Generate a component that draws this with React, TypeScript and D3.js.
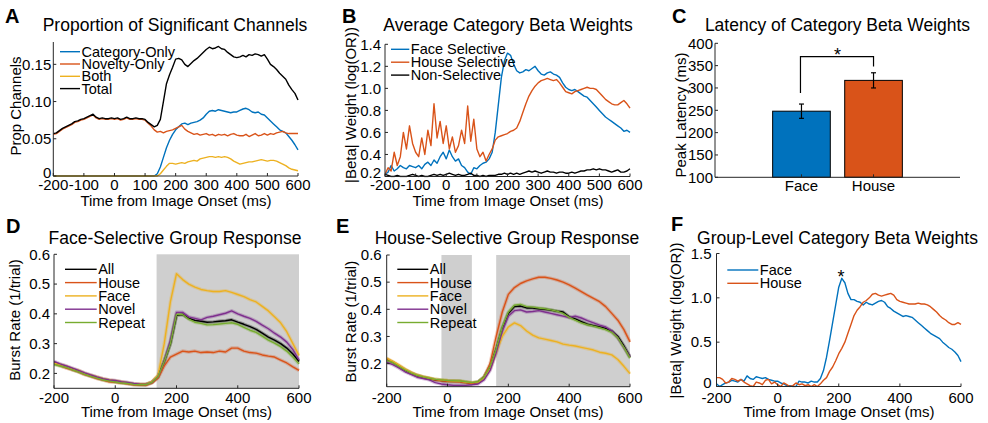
import React from 'react';
import * as d3 from 'd3';

// ---------------- DATA ----------------
const T10 = d3.range(-200, 601, 10);
const T20 = d3.range(-200, 601, 20);

// Panel A: proportion of significant channels
const A_category = [
  0, 0, 0, 0, 0, 0, 0, 0, 0, 0,
  0, 0, 0, 0, 0, 0, 0, 0, 0, 0,
  0, 0, 0, 0, 0, 0, 0, 0, 0, 0,
  0, 0, 0, 0, .003, .012, .025, .038, .048, .056,
  .062, .066, .070, .071, .069, .071, .072, .073, .075, .078,
  .083, .087, .088, .087, .089, .088, .087, .086, .085, .086,
  .086, .088, .090, .091, .089, .086, .085, .086, .083, .082,
  .078, .074, .070, .066, .062, .060, .058, .053, .048, .042,
  .035,
];
const A_novelty = [
  .056, .057, .060, .063, .065, .067, .069, .072, .073, .075,
  .076, .078, .080, .082, .078, .076, .077, .076, .076, .077,
  .076, .077, .075, .076, .078, .076, .076, .077, .076, .076,
  .075, .071, .067, .062, .059, .060, .058, .060, .061, .062,
  .064, .066, .068, .063, .060, .058, .056, .057, .055, .056,
  .057, .055, .056, .054, .056, .055, .056, .054, .056, .057,
  .055, .054, .054, .056, .053, .055, .057, .054, .055, .057,
  .055, .057, .056, .058, .059, .060, .058, .057, .057, .057,
  .057,
];
const A_both = [
  0, 0, 0, 0, 0, 0, 0, 0, 0, 0,
  0, 0, 0, 0, 0, 0, 0, 0, 0, 0,
  0, 0, 0, 0, 0, 0, 0, 0, 0, 0,
  0, 0, 0, 0, 0, .003, .008, .013, .017, .017,
  .016, .017, .018, .017, .019, .020, .021, .020, .023, .024,
  .025, .026, .026, .025, .026, .025, .026, .025, .023, .020,
  .018, .016, .017, .018, .019, .019, .020, .021, .022, .021,
  .020, .021, .021, .020, .018, .016, .014, .011, .009, .008,
  .007,
];
const A_total = [
  .057, .058, .061, .064, .066, .068, .070, .073, .074, .076,
  .077, .079, .081, .083, .079, .077, .078, .077, .077, .078,
  .077, .078, .076, .077, .079, .077, .077, .078, .077, .077,
  .076, .072, .069, .066, .068, .076, .100, .124, .136, .146,
  .157, .158, .156, .150, .147, .151, .155, .158, .162, .166,
  .170, .173, .171, .172, .174, .171, .170, .166, .163, .160,
  .159, .160, .162, .160, .163, .162, .164, .163, .161, .163,
  .157, .150, .147, .143, .138, .134, .130, .122, .116, .111,
  .102,
];

// Panel B: average category beta weights
const B_face = [
  .22, .24, .30, .25, .27, .30, .28, .27, .30, .29,
  .28, .30, .27, .31, .33, .30, .35, .32, .38, .42,
  .36, .44, .38, .34, .36, .30, .28, .24, .22, .28,
  .27, .30, .32, .33, .36, .42, .60, .85, 1.10, 1.25,
  1.32, 1.30, 1.22, 1.16, 1.14, 1.15, 1.17, 1.16, 1.18, 1.20,
  1.16, 1.13, 1.12, 1.14, 1.15, 1.13, 1.12, 1.10, 1.05, 1.01,
  .99, .98, .99, .97, .95, .93, .92, .89, .86, .83,
  .80, .77, .74, .72, .70, .68, .66, .64, .61, .62,
  .60,
];
const B_house = [
  .22, .28, .25, .42, .30, .38, .60, .45, .66, .50,
  .42, .38, .55, .40, .62, .48, .86, .55, .70, .50,
  .66, .45, .56, .42, .48, .62, .50, .84, .52, .72,
  .45, .38, .42, .34, .40, .45, .53, .56, .57, .58,
  .59, .61, .62, .64, .70, .78, .86, .93, .98, 1.02,
  1.05, 1.07, 1.08, 1.09, 1.08, 1.07, 1.08, 1.05, 1.01, .97,
  .96, .95, .97, .98, .99, 1.00, 1.01, 1.00, 1.00, .99,
  .96, .93, .90, .88, .86, .85, .85, .87, .89, .86,
  .82,
];
const B_non = [
  .22, .21, .20, .20, .21, .20, .20, .20, .21, .22,
  .21, .20, .21, .20, .20, .21, .22, .21, .22, .21,
  .22, .23, .22, .21, .22, .21, .21, .22, .23, .21,
  .21, .20, .21, .20, .21, .21, .21, .22, .22, .23,
  .22, .23, .22, .23, .22, .23, .24, .25, .24, .25,
  .24, .23, .24, .25, .24, .24, .23, .24, .24, .23,
  .23, .24, .23, .24, .25, .25, .26, .26, .27, .26,
  .27, .26, .26, .25, .24, .25, .26, .24, .24, .25,
  .27,
];

// Panel C: peak latency
const C_categories = ['Face', 'House'];
const C_means = [248, 317];
const C_errors = [16, 17];

// Panel D: face-selective group response (20 ms steps)
const D_all = [
  .236, .228, .222, .214, .207, .199, .192, .186, .180, .176,
  .173, .170, .167, .164, .163, .163, .170, .190, .240, .300,
  .395, .398, .385, .378, .375, .372, .373, .375, .377, .380,
  .372, .365, .357, .348, .335, .322, .312, .300, .285, .265,
  .240,
];
const D_house = [
  .232, .226, .218, .212, .205, .196, .190, .183, .178, .172,
  .170, .168, .165, .162, .161, .160, .168, .185, .225, .255,
  .265, .275, .272, .275, .270, .272, .270, .275, .272, .285,
  .285, .275, .270, .268, .262, .258, .255, .245, .235, .222,
  .210,
];
const D_face = [
  .235, .230, .224, .215, .210, .200, .194, .188, .182, .178,
  .175, .172, .168, .165, .164, .164, .172, .195, .300, .440,
  .535, .515, .500, .490, .482, .478, .475, .475, .478, .472,
  .465, .458, .448, .440, .425, .410, .390, .370, .340, .300,
  .260,
];
const D_novel = [
  .240, .232, .225, .218, .210, .202, .195, .188, .182, .178,
  .176, .172, .170, .166, .164, .163, .170, .190, .240, .310,
  .405, .405, .390, .385, .380, .388, .392, .397, .402, .410,
  .400, .392, .385, .375, .362, .350, .335, .322, .305, .280,
  .245,
];
const D_repeat = [
  .230, .225, .220, .212, .205, .197, .190, .184, .178, .174,
  .171, .168, .166, .163, .162, .162, .170, .190, .240, .300,
  .398, .398, .382, .372, .368, .363, .364, .366, .368, .370,
  .365, .355, .345, .338, .325, .312, .302, .290, .275, .255,
  .232,
];

// Panel E: house-selective group response (20 ms steps)
const E_all = [
  .215, .205, .190, .176, .165, .156, .150, .145, .140, .138,
  .136, .135, .135, .131, .128, .132, .150, .190, .255, .330,
  .385, .410, .412, .405, .405, .402, .400, .397, .393, .390,
  .372, .365, .355, .345, .340, .335, .330, .320, .300, .265,
  .225,
];
const E_house = [
  .218, .205, .192, .178, .166, .157, .150, .145, .140, .137,
  .135, .134, .133, .130, .127, .130, .150, .200, .300, .390,
  .455, .480, .495, .505, .512, .518, .518, .514, .508, .500,
  .490, .478, .465, .452, .440, .428, .410, .385, .360, .325,
  .280,
];
const E_face = [
  .220, .208, .195, .180, .168, .158, .152, .147, .142, .140,
  .138, .137, .136, .132, .130, .132, .148, .180, .240, .300,
  .335, .350, .340, .320, .305, .295, .290, .285, .280, .272,
  .268, .265, .260, .255, .250, .242, .238, .232, .215, .190,
  .163,
];
const E_novel = [
  .205, .196, .184, .170, .160, .150, .145, .140, .130, .125,
  .122, .120, .120, .120, .122, .125, .140, .175, .240, .320,
  .375, .395, .398, .390, .392, .395, .390, .385, .380, .375,
  .370, .375, .368, .358, .350, .342, .335, .320, .295, .260,
  .225,
];
const E_repeat = [
  .212, .204, .190, .177, .166, .157, .151, .146, .142, .140,
  .138, .137, .136, .133, .130, .133, .150, .190, .255, .335,
  .390, .415, .418, .410, .408, .405, .402, .398, .393, .385,
  .370, .360, .350, .343, .338, .332, .325, .315, .295, .260,
  .220,
];

// Panel F: group-level category beta weights
const F_face = [
  .03, .00, .02, .04, .05, .07, .06, .05, .08, .06,
  .12, .09, .08, .11, .10, .09, .10, .08, .07, .06,
  .06, .04, .03, .01, .01, .00, .00, .06, .05, .05,
  .04, .06, .05, .05, .09, .18, .33, .52, .72, .92,
  1.12, 1.22, 1.17, 1.05, .98, .98, .96, .95, .92, .95,
  .93, .92, .94, .96, .97, .95, .90, .88, .85, .83,
  .81, .79, .80, .79, .78, .75, .72, .69, .66, .63,
  .60, .58, .56, .54, .50, .47, .44, .42, .39, .35,
  .28,
];
const F_house = [
  .10, .10, .08, .04, .05, .09, .08, .06, .08, .05,
  .03, .01, .00, .05, .04, .02, .07, .08, .03, .05,
  .02, .00, .04, .02, .00, .01, .04, .02, .03, .01,
  .02, .00, .02, .00, .03, .07, .10, .17, .22, .29,
  .37, .43, .50, .60, .70, .80, .86, .90, .95, .97,
  1.00, 1.04, 1.05, 1.03, 1.02, 1.03, 1.04, 1.05, 1.03, .98,
  .96, .95, .94, .93, .93, .93, .94, .93, .93, .92,
  .90, .87, .84, .80, .77, .75, .72, .70, .70, .72,
  .70,
];

const xTicksFine = [-200, -100, 0, 100, 200, 300, 400, 500, 600];
const xTicksCoarse = [-200, 0, 200, 400, 600];

// ---------------- STYLE ----------------
const FONT = '"Liberation Sans", Arial, Helvetica, sans-serif';
const BLUE = '#0072BD';
const RED = '#D95319';
const YELLOW = '#EDB120';
const PURPLE = '#7E2F8E';
const GREEN = '#77AC30';
const BLACK = '#000000';
const AX = '#262626';
const TICK_FS = 15;
const LABEL_FS = 15;
const TITLE_FS = 17.5;
const LEGEND_FS = 14.5;
const LETTER_FS = 20;

type Series = { name: string; color: string; values: number[] };
type PanelProps = {
  id: string;
  x0: number; x1: number; yTop: number; yBot: number;
  yDom: [number, number];
  times: number[];
  series: Series[];
  xTicks: number[];
  yTicks: number[];
  yFmt: (v: number) => string;
  tickGap: number;
  shades?: [number, number][];
  legend: { x0: number; x1: number; y: number; dy: number };
  halo?: boolean;
  tickY: number;
  xLabelX: number; xLabelY: number;
  yLabel: string; yLabelX: number; yLabelY: number;
  title: string; titleX: number; titleY: number;
  letter: string; letterX: number; letterY: number;
};

function PanelText(p: { title: string; titleX: number; titleY: number; letter: string; letterX: number; letterY: number }) {
  return (
    <g>
      <text x={p.titleX} y={p.titleY} textAnchor="middle" fontSize={TITLE_FS}>{p.title}</text>
      <text x={p.letterX} y={p.letterY} fontSize={LETTER_FS} fontWeight="bold">{p.letter}</text>
    </g>
  );
}

function LinePanel(p: PanelProps) {
  const xs = d3.scaleLinear().domain([-200, 600]).range([p.x0, p.x1]);
  const ys = d3.scaleLinear().domain(p.yDom).range([p.yBot, p.yTop]);
  const mk = (vals: number[]) =>
    d3.line<number>().x((_, i) => xs(p.times[i])).y((v) => ys(v))(vals) ?? '';
  const clipId = `clip-${p.id}`;
  return (
    <g>
      <defs>
        <clipPath id={clipId}>
          <rect x={p.x0} y={p.yTop - 1} width={p.x1 - p.x0 + 1} height={p.yBot - p.yTop + 2} />
        </clipPath>
      </defs>
      {(p.shades ?? []).map(([a, b], i) => (
        <rect key={i} x={xs(a)} y={p.yTop} width={xs(b) - xs(a)} height={p.yBot - p.yTop} fill="#cfcfcf" />
      ))}
      <g clipPath={`url(#${clipId})`}>
        {p.halo &&
          p.series.map((s) => (
            <path key={'h' + s.name} d={mk(s.values)} fill="none" stroke={s.color} strokeOpacity={0.3} strokeWidth={3.5} strokeLinejoin="round" />
          ))}
        {p.series.map((s) => (
          <path key={s.name} d={mk(s.values)} fill="none" stroke={s.color} strokeWidth={1.4} strokeLinejoin="round" />
        ))}
      </g>
      <line x1={p.x0} x2={p.x1} y1={p.yBot} y2={p.yBot} stroke={AX} strokeWidth={1} />
      <line x1={p.x0} x2={p.x0} y1={p.yTop} y2={p.yBot} stroke={AX} strokeWidth={1} />
      {p.xTicks.map((t) => (
        <g key={'xt' + t}>
          <line x1={xs(t)} x2={xs(t)} y1={p.yBot} y2={p.yBot - 3} stroke={AX} />
          <text x={xs(t)} y={p.tickY} textAnchor="middle" fontSize={TICK_FS}>{String(t)}</text>
        </g>
      ))}
      {p.yTicks.map((v, i) => (
        <g key={'yt' + v}>
          <line x1={p.x0} x2={p.x0 + 3} y1={ys(v)} y2={ys(v)} stroke={AX} />
          <text x={p.x0 - p.tickGap} y={ys(v) - (i === 0 && ys(v) > p.yBot - 2 ? 3.5 : 0)} dy="0.35em" textAnchor="end" fontSize={TICK_FS}>{p.yFmt(v)}</text>
        </g>
      ))}
      <text x={p.xLabelX} y={p.xLabelY} textAnchor="middle" fontSize={LABEL_FS}>Time from Image Onset (ms)</text>
      <text transform={`translate(${p.yLabelX},${p.yLabelY}) rotate(-90)`} textAnchor="middle" fontSize={LABEL_FS}>{p.yLabel}</text>
      {p.series.map((s, i) => (
        <g key={'lg' + s.name}>
          <line x1={p.legend.x0} x2={p.legend.x1} y1={p.legend.y + i * p.legend.dy} y2={p.legend.y + i * p.legend.dy} stroke={s.color} strokeWidth={1.4} />
          <text x={p.legend.x1 + 1.5} y={p.legend.y + i * p.legend.dy} dy="0.35em" fontSize={LEGEND_FS}>{s.name}</text>
        </g>
      ))}
      <PanelText title={p.title} titleX={p.titleX} titleY={p.titleY} letter={p.letter} letterX={p.letterX} letterY={p.letterY} />
    </g>
  );
}

function BarPanel() {
  const x0 = 715, x1 = 960, yTop = 43.3, yBot = 177.3;
  const xs = d3.scaleLinear().domain([-0.2, 3.2]).range([x0, x1]);
  const ys = d3.scaleLinear().domain([100, 400]).range([yBot, yTop]);
  const colors = [BLUE, RED];
  const bw = 0.8;
  const yTicks = d3.range(100, 401, 50);
  const cx = [1, 2];
  return (
    <g>
      {C_means.map((m, i) => (
        <rect key={i} x={xs(cx[i] - bw / 2)} y={ys(m)} width={xs(cx[i] + bw / 2) - xs(cx[i] - bw / 2)} height={ys(100) - ys(m)} fill={colors[i]} stroke="#000" strokeWidth={1} />
      ))}
      {C_means.map((m, i) => (
        <g key={'e' + i} stroke="#000" strokeWidth={1.2}>
          <line x1={xs(cx[i])} x2={xs(cx[i])} y1={ys(m - C_errors[i])} y2={ys(m + C_errors[i])} />
          <line x1={xs(cx[i]) - 2.5} x2={xs(cx[i]) + 2.5} y1={ys(m - C_errors[i])} y2={ys(m - C_errors[i])} />
          <line x1={xs(cx[i]) - 2.5} x2={xs(cx[i]) + 2.5} y1={ys(m + C_errors[i])} y2={ys(m + C_errors[i])} />
        </g>
      ))}
      <path d={`M${xs(1) - 1},${ys(289)} V${ys(370)} H${xs(2)} V${ys(348)}`} fill="none" stroke="#000" strokeWidth={1.2} />
      <text x={(xs(1) + xs(2)) / 2} y={ys(370) + 4} textAnchor="middle" fontSize={18}>*</text>
      <line x1={x0} x2={x1} y1={yBot} y2={yBot} stroke={AX} />
      <line x1={x0} x2={x0} y1={yTop} y2={yBot} stroke={AX} />
      {yTicks.map((v) => (
        <g key={v}>
          <line x1={x0} x2={x0 + 3} y1={ys(v)} y2={ys(v)} stroke={AX} />
          <text x={x0 - 2} y={ys(v)} dy="0.35em" textAnchor="end" fontSize={TICK_FS}>{v}</text>
        </g>
      ))}
      {C_categories.map((c, i) => (
        <g key={c}>
          <line x1={xs(cx[i])} x2={xs(cx[i])} y1={yBot} y2={yBot - 3} stroke={AX} />
          <text x={xs(cx[i])} y={190.5} textAnchor="middle" fontSize={TICK_FS}>{c}</text>
        </g>
      ))}
      <text transform={`translate(686,115) rotate(-90)`} textAnchor="middle" fontSize={LABEL_FS}>Peak Latency (ms)</text>
      <PanelText title="Latency of Category Beta Weights" titleX={837.5} titleY={30.5} letter="C" letterX={672} letterY={22.5} />
    </g>
  );
}

export default function App() {
  const f2 = (v: number) => (v === 0 ? '0' : v.toFixed(2));
  const f1 = (v: number) => v.toFixed(1);
  const f1z = (v: number) => (v === 0 ? '0' : v.toFixed(1));
  return (
    <div style={{ position: 'absolute', left: 0, top: 0 }}>
      <svg width={988} height={423} style={{ display: 'block', background: '#fff' }} fontFamily={FONT}>
        <LinePanel
          id="A" x0={53.3} x1={298} yTop={42} yBot={176} yDom={[0, 0.18]} times={T10}
          series={[
            { name: 'Category-Only', color: BLUE, values: A_category },
            { name: 'Novelty-Only', color: RED, values: A_novelty },
            { name: 'Both', color: YELLOW, values: A_both },
            { name: 'Total', color: BLACK, values: A_total },
          ]}
          xTicks={xTicksFine} yTicks={[0, 0.05, 0.1, 0.15]} yFmt={f2} tickGap={2}
          legend={{ x0: 60, x1: 80, y: 51.7, dy: 12.3 }}
          tickY={190} xLabelX={176} xLabelY={206}
          yLabel="Prop Channels" yLabelX={20.5} yLabelY={106}
          title="Proportion of Significant Channels" titleX={175} titleY={30.5}
          letter="A" letterX={5} letterY={22.7}
        />
        <LinePanel
          id="B" x0={385} x1={630} yTop={44.3} yBot={176.5} yDom={[0.2, 1.4]} times={T10}
          series={[
            { name: 'Face Selective', color: BLUE, values: B_face },
            { name: 'House Selective', color: RED, values: B_house },
            { name: 'Non-Selective', color: BLACK, values: B_non },
          ]}
          xTicks={xTicksFine} yTicks={[0.2, 0.4, 0.6, 0.8, 1.0, 1.2, 1.4]} yFmt={f1} tickGap={4}
          legend={{ x0: 391, x1: 409.3, y: 49.3, dy: 12.9 }}
          tickY={190} xLabelX={508} xLabelY={206}
          yLabel="|Beta| Weight (log(OR))" yLabelX={356} yLabelY={105}
          title="Average Category Beta Weights" titleX={508} titleY={30.5}
          letter="B" letterX={342} letterY={22.7}
        />
        <BarPanel />
        <LinePanel
          id="D" x0={54} x1={299} yTop={254.3} yBot={388.3} yDom={[0.15, 0.6]} times={T20}
          series={[
            { name: 'All', color: BLACK, values: D_all },
            { name: 'House', color: RED, values: D_house },
            { name: 'Face', color: YELLOW, values: D_face },
            { name: 'Novel', color: PURPLE, values: D_novel },
            { name: 'Repeat', color: GREEN, values: D_repeat },
          ]}
          shades={[[135, 600]]} halo
          xTicks={xTicksCoarse} yTicks={[0.2, 0.3, 0.4, 0.5, 0.6]} yFmt={f1} tickGap={4}
          legend={{ x0: 65, x1: 96.7, y: 269.3, dy: 13.3 }}
          tickY={403} xLabelX={176.5} xLabelY={416.5}
          yLabel="Burst Rate (1/trial)" yLabelX={19.5} yLabelY={320}
          title="Face-Selective Group Response" titleX={175} titleY={243.5}
          letter="D" letterX={6} letterY={232.5}
        />
        <LinePanel
          id="E" x0={386.7} x1={630} yTop={255} yBot={386.7} yDom={[0.115, 0.6]} times={T20}
          series={[
            { name: 'All', color: BLACK, values: E_all },
            { name: 'House', color: RED, values: E_house },
            { name: 'Face', color: YELLOW, values: E_face },
            { name: 'Novel', color: PURPLE, values: E_novel },
            { name: 'Repeat', color: GREEN, values: E_repeat },
          ]}
          shades={[[-20, 80], [160, 600]]} halo
          xTicks={xTicksCoarse} yTicks={[0.2, 0.3, 0.4, 0.5, 0.6]} yFmt={f1} tickGap={5}
          legend={{ x0: 397.3, x1: 428.3, y: 269.3, dy: 13.3 }}
          tickY={403} xLabelX={508} xLabelY={416.5}
          yLabel="Burst Rate (1/trial)" yLabelX={356} yLabelY={321.7}
          title="House-Selective Group Response" titleX={507} titleY={243.5}
          letter="E" letterX={336} letterY={232.5}
        />
        <LinePanel
          id="F" x0={716.5} x1={961} yTop={253.5} yBot={386.5} yDom={[0, 1.5]} times={T10}
          series={[
            { name: 'Face', color: BLUE, values: F_face },
            { name: 'House', color: RED, values: F_house },
          ]}
          xTicks={xTicksCoarse} yTicks={[0, 0.5, 1.0, 1.5]} yFmt={f1z} tickGap={5}
          legend={{ x0: 727.3, x1: 758.3, y: 270, dy: 13.3 }}
          tickY={403} xLabelX={839} xLabelY={416.5}
          yLabel="|Beta| Weight (log(OR))" yLabelX={680.5} yLabelY={320.5}
          title="Group-Level Category Beta Weights" titleX={837.5} titleY={243.5}
          letter="F" letterX={671} letterY={231}
        />
        <text x={841} y={283} textAnchor="middle" fontSize={18}>*</text>
      </svg>
    </div>
  );
}
